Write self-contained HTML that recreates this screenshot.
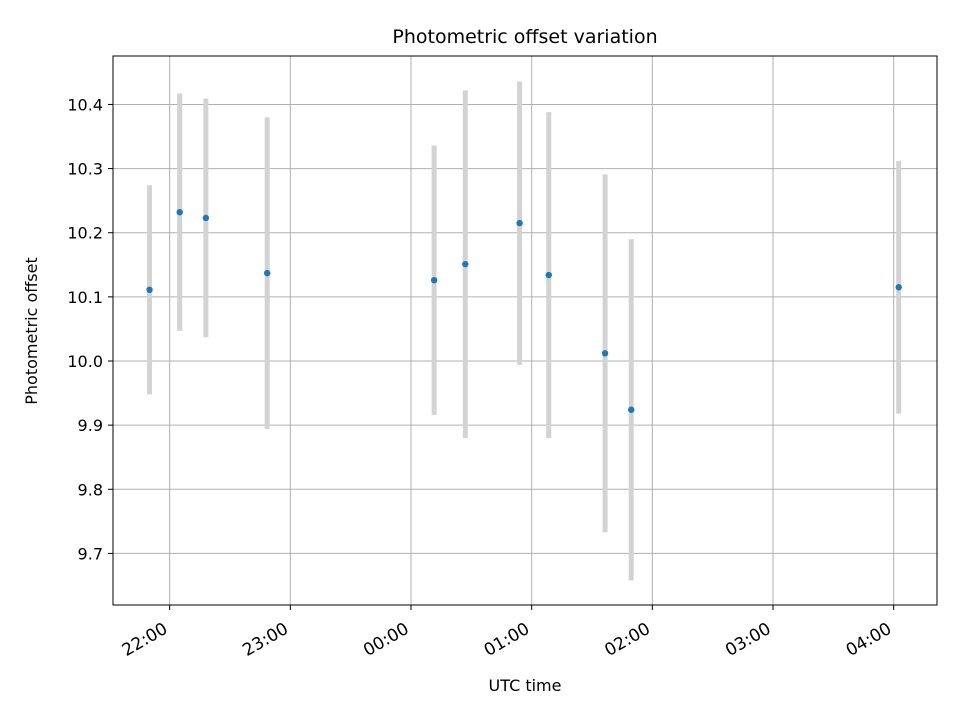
<!DOCTYPE html>
<html><head><meta charset="utf-8"><style>body{margin:0;background:#fff}svg{font-family:"DejaVu Sans","Liberation Sans",sans-serif}</style></head>
<body>
<svg id="c" width="960" height="720"></svg>
<script>
const timesMin=[-130,-115,-102,-71.5,11.5,27,54,68.5,96.5,109.5,242.5];
const offsets=[10.111,10.232,10.223,10.137,10.126,10.151,10.215,10.134,10.012,9.924,10.115];
const errors=[0.163,0.185,0.186,0.243,0.210,0.271,0.221,0.254,0.279,0.266,0.197];
const yTicks=[9.7,9.8,9.9,10.0,10.1,10.2,10.3,10.4];
const xTicksMin=[-120,-60,0,60,120,180,240];
const xTickLabels=["22:00","23:00","00:00","01:00","02:00","03:00","04:00"];
const L=113,R=937,T=56,B=605;
const X=m=>411+m*120.67/60;
const Y=v=>361-(v-10)*641.4;
const svg=document.getElementById('c');const NS='http://www.w3.org/2000/svg';
function el(t,a,p){const e=document.createElementNS(NS,t);for(const k in a)e.setAttribute(k,a[k]);(p||svg).appendChild(e);return e;}
const grid=el('g',{});
yTicks.forEach(v=>{const y=Y(v);
 el('line',{x1:L,x2:R,y1:y,y2:y,stroke:'#b0b0b0','stroke-width':1},grid);
 el('line',{x1:L-5,x2:L,y1:y,y2:y,stroke:'#000'});
 const t=el('text',{x:L-10,y:y+6,'text-anchor':'end','font-size':16});t.textContent=v.toFixed(1);
 });
xTicksMin.forEach((m,i)=>{const x=X(m);
 el('line',{x1:x,x2:x,y1:T,y2:B,stroke:'#b0b0b0','stroke-width':1},grid);
 el('line',{x1:x,x2:x,y1:B,y2:B+5,stroke:'#000'});
 const ax=x-1,ay=B+27;
 const t=el('text',{x:ax,y:ay,'text-anchor':'end','font-size':17,transform:`rotate(-30 ${ax} ${ay})`});
 t.textContent=xTickLabels[i];
 });
const series=el('g',{});
timesMin.forEach((m,i)=>{const x=X(m);
 const e=el('line',{x1:x,x2:x,y1:Y(offsets[i]+errors[i]),y2:Y(offsets[i]-errors[i]),stroke:'#d3d3d3','stroke-width':5},series);
 });
timesMin.forEach((m,i)=>{
 const p=el('circle',{cx:X(m),cy:Y(offsets[i]),r:3.2,fill:'#1f77b4'},series);
 });
const f=el('rect',{x:L,y:T,width:R-L,height:B-T,fill:'none',stroke:'#000','stroke-width':1});

let t=el('text',{x:525,y:43,'text-anchor':'middle','font-size':19});t.textContent='Photometric offset variation';

t=el('text',{x:525,y:691,'text-anchor':'middle','font-size':16});t.textContent='UTC time';

t=el('text',{x:37,y:331,'text-anchor':'middle','font-size':16,transform:'rotate(-90 37 331)'});t.textContent='Photometric offset';

</script>
</body></html>
